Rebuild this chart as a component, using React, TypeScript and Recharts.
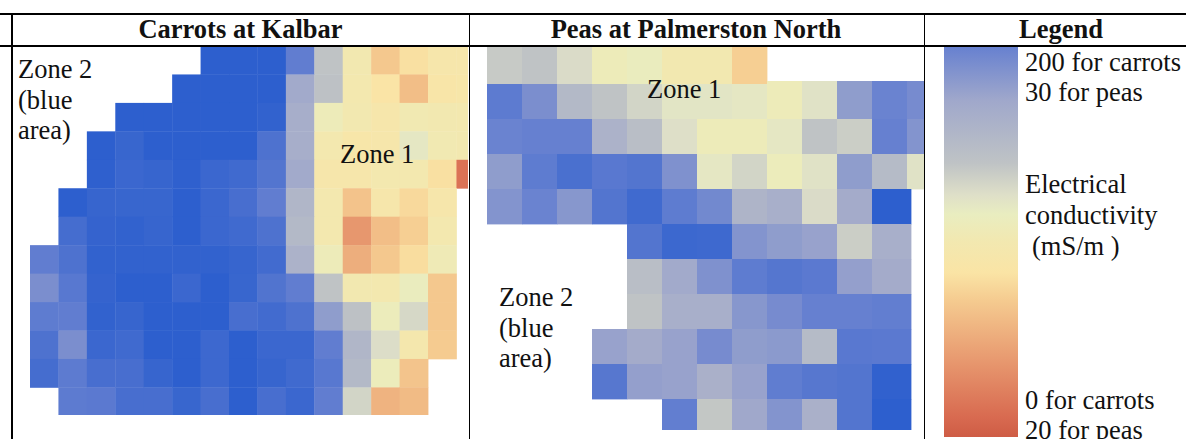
import React from "react";
import { BarChart, Bar, Scatter, ScatterChart, XAxis, YAxis } from "recharts";

type Row = (number | null)[];
type CellProps = { cx?: number; cy?: number; payload?: { col: number; row: number; ec: number } };

const _ = null;

// Electrical conductivity, mS/m. Blue cells go past the top of the legend.
const carrotRows: Row[] = [
  [_, _, _, _, _, _, 260, 260, 260, 205, 140, 100, 68, 82, 92, 92],
  [_, _, _, _, _, 260, 260, 260, 260, 170, 142, 98, 85, 62, 88, 90],
  [_, _, _, 260, 260, 260, 260, 260, 255, 165, 108, 100, 92, 102, 100, 98],
  [_, _, 260, 248, 260, 260, 260, 260, 225, 165, 98, 90, 92, 118, 102, 100],
  [_, _, 258, 245, 250, 258, 245, 240, 220, 170, 92, 92, 98, 98, 82, 15],
  [_, 260, 250, 248, 248, 260, 245, 232, 205, 155, 98, 65, 92, 78, 92, _],
  [_, 235, 252, 255, 250, 262, 245, 240, 225, 152, 98, 38, 62, 72, 98, _],
  [205, 225, 255, 255, 255, 255, 255, 250, 238, 160, 108, 52, 68, 80, 105, _],
  [190, 215, 252, 262, 262, 245, 262, 248, 222, 205, 140, 100, 98, 112, 68, _],
  [208, 205, 255, 250, 262, 260, 260, 232, 238, 225, 180, 142, 110, 128, 68, _],
  [225, 190, 245, 240, 260, 260, 243, 265, 245, 245, 205, 155, 125, 96, 70, _],
  [235, 210, 232, 232, 250, 262, 243, 265, 250, 240, 215, 152, 110, 66, _, _],
  [_, 210, 212, 232, 232, 248, 232, 262, 232, 245, 205, 130, 55, 60, _, _],
];

const peaRows: Row[] = [
  [26.8, 27, 26.3, 25.4, 25.6, 25, 25, 23.6, _, _, _, _, _],
  [30.5, 29.5, 27.6, 27, 26.5, 26, 26, 25.9, 25.4, 26.1, 29, 29.9, 29.6],
  [29.9, 30, 30, 28, 27.3, 26.2, 25.4, 25.4, 25.9, 27, 26.7, 30, 29.3],
  [29, 30.4, 31.5, 30.7, 31, 29.4, 25.9, 26.5, 25.5, 26.1, 29, 27.5, 26.1],
  [29.3, 29.9, 29.2, 31, 32, 30.4, 29.7, 27.9, 28.2, 26.3, 28.4, 33, _],
  [_, _, _, _, 31, 32.2, 32.1, 29.3, 29, 28.8, 26.7, 28.2, _],
  [_, _, _, _, 27.3, 28.5, 29.4, 30.4, 30.9, 30.6, 28.9, 28.4, _],
  [_, _, _, _, 27, 28.2, 28.2, 29.2, 29.6, 30, 30, 30.2, _],
  [_, _, _, 28.8, 28.4, 28.8, 29.6, 29, 29.1, 27.5, 30.7, 30.6, _],
  [_, _, _, 30.8, 28.9, 28.8, 28.1, 28.8, 30.3, 30.8, 31, 32.8, _],
  [_, _, _, _, _, 30.2, 26.9, 28.6, 29.3, 28.1, 31, 33, _],
];

const carrotRange = [0, 200];
const peaRange = [20, 30];

// colour ramp, 0 = bottom of legend, 1 = top of legend
const rampLevels = [0, 0.05, 0.2, 0.35, 0.42, 0.5, 0.57, 0.62, 0.7, 0.86, 1, 1.3];
const rampColors = ["#CE5C45", "#D86A50", "#E89A70", "#F5CB90", "#FAE4A5", "#F2E8B0", "#E9EDC0", "#DEDFC8", "#BFC3C5", "#A0A8CB", "#6680D0", "#2D5FCE"];

const legendBar = [{ name: "EC", value: 1 }];

const hexToRgb = (hex: string) => [1, 3, 5].map((i) => parseInt(hex.slice(i, i + 2), 16));

const rampColor = (t: number) => {
  const top = rampLevels.length - 1;
  if (t >= rampLevels[top]) return rampColors[top];
  let i = 0;
  while (t > rampLevels[i + 1]) i++;
  const f = Math.max(0, (t - rampLevels[i]) / (rampLevels[i + 1] - rampLevels[i]));
  const a = hexToRgb(rampColors[i]);
  const b = hexToRgb(rampColors[i + 1]);
  return `rgb(${a.map((v, k) => Math.round(v + (b[k] - v) * f)).join(",")})`;
};

const toCells = (rows: Row[]) =>
  rows.flatMap((values, row) =>
    values.flatMap((ec, col) => (ec === null ? [] : [{ col, row, ec, x: col + 0.5, y: row + 0.5 }]))
  );

const serif = "'Liberation Serif', serif";

type HeatProps = {
  rows: Row[];
  range: number[];
  cellW: number;
  cellH: number;
  nCols: number;
  left: number;
  top: number;
  clipW: number;
  clipH: number;
  bleed?: number;
  extra?: (col: number, row: number) => { up: number; right: number };
};

const Heat: React.FC<HeatProps> = ({ rows, range, cellW, cellH, nCols, left, top, clipW, clipH, bleed = 0, extra }) => {
  const renderCell = (props: CellProps) => {
    const { cx = 0, cy = 0, payload } = props;
    if (!payload) return <g />;
    const t = (payload.ec - range[0]) / (range[1] - range[0]);
    const more = extra ? extra(payload.col, payload.row) : { up: 0, right: 0 };
    return (
      <rect
        x={cx - cellW / 2}
        y={cy - cellH / 2 - more.up}
        width={cellW + more.right + 0.4}
        height={cellH + more.up + 0.4}
        fill={rampColor(t)}
      />
    );
  };

  return (
    <div style={{ position: "absolute", left, top, width: clipW, height: clipH, overflow: "hidden" }}>
      <ScatterChart
        width={nCols * cellW}
        height={rows.length * cellH + bleed}
        margin={{ top: bleed, right: 0, bottom: 0, left: 0 }}
      >
        <XAxis type="number" dataKey="x" domain={[0, nCols]} hide />
        <YAxis type="number" dataKey="y" domain={[0, rows.length]} reversed hide />
        <Scatter data={toCells(rows)} shape={renderCell} isAnimationActive={false} />
      </ScatterChart>
    </div>
  );
};

const lines = [
  { left: 0, top: 13, width: 1186, height: 2 },
  { left: 0, top: 45, width: 1186, height: 1.5 },
  { left: 10.5, top: 13, width: 2, height: 426 },
  { left: 468.5, top: 13, width: 1.6, height: 426 },
  { left: 923.5, top: 13, width: 1.6, height: 426 },
];

const labels = [
  { text: "Carrots at Kalbar", x: 240.5, y: 38, bold: true, anchor: "middle" },
  { text: "Peas at Palmerston North", x: 696, y: 38, bold: true, anchor: "middle" },
  { text: "Legend", x: 1061, y: 38, bold: true, anchor: "middle" },
  { text: "Zone 2", x: 18, y: 78 },
  { text: "(blue", x: 18, y: 109 },
  { text: "area)", x: 18, y: 139 },
  { text: "Zone 1", x: 340, y: 163 },
  { text: "Zone 1", x: 647, y: 98 },
  { text: "Zone 2", x: 499, y: 306 },
  { text: "(blue", x: 499, y: 337 },
  { text: "area)", x: 499, y: 367 },
  { text: "200 for carrots", x: 1025, y: 71 },
  { text: "30 for peas", x: 1025, y: 101 },
  { text: "Electrical", x: 1025, y: 193 },
  { text: "conductivity", x: 1025, y: 224 },
  { text: "(mS/m )", x: 1032, y: 255 },
  { text: "0 for carrots", x: 1025, y: 409 },
  { text: "20 for peas", x: 1025, y: 439 },
];

const App: React.FC = () => {
  return (
    <div style={{ position: "absolute", left: 0, top: 0, width: 1186, height: 439, background: "#fff", overflow: "hidden" }}>
      <Heat rows={carrotRows} range={carrotRange} cellW={28.43} cellH={28.45} nCols={16} left={30} top={46} clipW={438} clipH={369} />
      <Heat
        rows={peaRows}
        range={peaRange}
        cellW={35}
        cellH={35}
        nCols={13}
        left={487}
        top={46}
        clipW={436.5}
        clipH={384}
        bleed={3}
        extra={(col, row) => ({ up: row === 0 || (row === 1 && col >= 8) ? 3 : 0, right: row >= 4 && col === 11 ? 4 : 0 })}
      />

      <div style={{ position: "absolute", left: 944, top: 46 }}>
        <BarChart width={74} height={391} data={legendBar} margin={{ top: 0, right: 0, bottom: 0, left: 0 }} barCategoryGap={0}>
          <defs>
            <linearGradient id="ecRamp" x1="0" y1="1" x2="0" y2="0">
              {rampLevels.filter((l) => l <= 1).map((l, i) => (
                <stop key={l} offset={l} stopColor={rampColors[i]} />
              ))}
            </linearGradient>
          </defs>
          <XAxis dataKey="name" hide />
          <YAxis domain={[0, 1]} hide />
          <Bar dataKey="value" fill="url(#ecRamp)" isAnimationActive={false} />
        </BarChart>
      </div>

      {lines.map((l, i) => (
        <div key={i} style={{ position: "absolute", background: "#000", ...l }} />
      ))}

      <svg width={1186} height={439} style={{ position: "absolute", left: 0, top: 0 }}>
        {labels.map((l, i) => (
          <text
            key={i}
            x={l.x}
            y={l.y}
            textAnchor={(l.anchor as "middle") ?? "start"}
            fontFamily={serif}
            fontSize={26.5}
            fontWeight={l.bold ? 700 : 400}
            fill="#111"
          >
            {l.text}
          </text>
        ))}
      </svg>
    </div>
  );
};

export default App;
